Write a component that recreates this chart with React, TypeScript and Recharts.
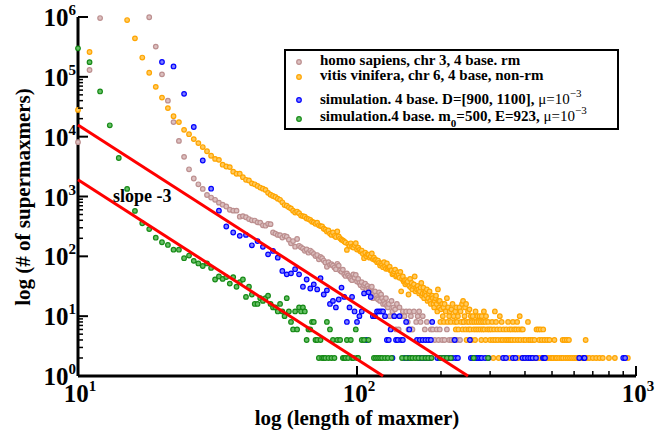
import React from 'react';
import { ScatterChart, Scatter, XAxis, YAxis } from 'recharts';

const FONT = '"Liberation Serif", "Times New Roman", Times, serif';

type Pt = [number, number];

// homo sapiens, chr 3, 4 base. rm  (length, # of supermaxmers)
const homoSapiens: Pt[] = [
  [10, 8100], [11, 130000], [12, 960000], [18, 990000], [19, 320000], [20, 110000], [21, 40000], [22, 17500],
  [23, 8500], [24, 4600], [25, 2850], [26, 2000], [27, 1600], [28, 1340], [29, 1060], [30, 960], [31, 880],
  [32, 790], [33, 730], [34, 680], [35, 600], [36, 580], [37, 580], [38, 460], [39, 470], [40, 450], [41, 420],
  [42, 400], [43, 396], [44, 370], [45, 365], [46, 330], [47, 325], [48, 350], [49, 345], [50, 250], [51, 240],
  [52, 228], [53, 225], [54, 206], [55, 220], [56, 213], [57, 190], [58, 165], [59, 180], [60, 145], [61, 195],
  [62, 150], [63, 142], [64, 135], [65, 124], [66, 130], [67, 115], [68, 125], [69, 118], [70, 110], [71, 101],
  [72, 105], [73, 89], [74, 98], [75, 93], [76, 85], [77, 79], [78, 67], [79, 80], [80, 72], [81, 74], [82, 70],
  [83, 65], [84, 61], [85, 75], [86, 70], [87, 58], [88, 55], [89, 60], [90, 50], [91, 47], [92, 52], [93, 48],
  [94, 45], [95, 42], [96, 40], [97, 50], [98, 44], [99, 49], [100, 38], [101, 42], [102, 36], [103, 33],
  [104, 37], [105, 30], [106, 33], [107, 35], [108, 28], [109, 32], [110, 29], [111, 27], [112, 30], [113, 31],
  [114, 20], [115, 24], [116, 26], [117, 22], [118, 20], [119, 19], [120, 25], [121, 18], [122, 23], [123, 20],
  [124, 16], [125, 18], [126, 16], [127, 20], [128, 15], [129, 14], [130, 16], [131, 10], [133, 18], [134, 12],
  [135, 14], [136, 10], [137, 13], [138, 6], [139, 16], [141, 6], [142, 14], [144, 10], [146, 12], [148, 10],
  [150, 12], [151, 2], [152, 8], [153, 6], [154, 12], [155, 2], [156, 10], [157, 6], [158, 6], [160, 12],
  [161, 2], [163, 8], [165, 10], [166, 2], [167, 12], [169, 8], [170, 2], [172, 10], [175, 6], [178, 8],
  [181, 4], [184, 6], [187, 6], [190, 4], [193, 6], [196, 4], [198, 6], [202, 4], [206, 4], [210, 6], [214, 4],
  [218, 4], [222, 4], [228, 4], [234, 4], [240, 8],
];

// vitis vinifera, chr 6, 4 base, non-rm
const vitisVinifera: Pt[] = [
  [10, 28000], [11, 260000], [15, 890000], [16, 440000], [17, 210000], [18, 117000], [19, 68000], [20, 45000],
  [21, 30000], [22, 22000], [23, 17500], [24, 13000], [25, 11000], [26, 9100], [27, 7800], [28, 6700],
  [29, 5700], [30, 4800], [31, 4250], [32, 4100], [33, 3400], [34, 3170], [35, 3100], [36, 2600], [37, 2400],
  [38, 2400], [39, 2100], [40, 1900], [41, 1850], [42, 1660], [43, 1600], [44, 1500], [45, 1410], [46, 1350],
  [47, 1290], [48, 1150], [49, 1070], [50, 1020], [51, 980], [52, 920], [53, 880], [54, 800], [55, 720],
  [56, 700], [57, 660], [58, 630], [59, 580], [60, 540], [61, 560], [62, 525], [63, 480], [64, 470], [65, 460],
  [66, 430], [67, 420], [68, 405], [69, 380], [70, 370], [71, 350], [72, 365], [73, 330], [74, 320], [75, 315],
  [76, 290], [77, 280], [78, 260], [79, 270], [80, 240], [81, 228], [82, 250], [83, 220], [84, 210], [85, 260],
  [86, 215], [87, 200], [88, 190], [89, 185], [90, 177], [91, 170], [92, 128], [93, 160], [94, 150], [95, 165],
  [96, 145], [97, 140], [98, 155], [99, 166], [100, 130], [101, 140], [102, 128], [103, 120], [104, 125],
  [105, 110], [106, 93], [107, 115], [108, 100], [109, 108], [110, 105], [111, 95], [112, 100], [113, 112],
  [114, 90], [115, 95], [116, 87], [117, 87], [118, 80], [119, 85], [120, 78], [121, 70], [122, 76], [123, 72],
  [124, 66], [125, 80], [126, 68], [127, 62], [128, 76], [129, 62], [130, 65], [131, 67], [132, 58], [133, 58],
  [134, 50], [135, 52], [136, 56], [137, 60], [138, 46], [139, 48], [140, 54], [141, 49], [142, 44], [143, 55],
  [144, 26], [145, 42], [146, 46], [147, 38], [148, 40], [149, 34], [150, 40], [151, 36], [152, 38], [153, 23],
  [154, 32], [155, 42], [156, 30], [157, 36], [158, 28], [159, 32], [160, 34], [161, 46], [162, 26], [163, 30],
  [164, 28], [165, 32], [166, 28], [167, 24], [168, 26], [169, 30], [170, 36], [171, 22], [172, 24], [173, 30],
  [174, 20], [175, 24], [176, 26], [177, 22], [178, 28], [179, 18], [180, 20], [181, 24], [182, 26], [183, 18],
  [184, 16], [185, 21], [186, 22], [187, 20], [188, 16], [189, 14], [190, 18], [191, 20], [192, 22], [193, 16],
  [194, 12], [195, 28], [196, 18], [197, 14], [198, 18], [200, 13], [202, 16], [204, 14], [206, 16], [208, 12],
  [210, 20], [212, 14], [215, 12], [218, 13], [220, 16], [225, 12], [227, 14], [233, 14], [235, 12], [238, 16],
  [240, 18], [244, 14], [246, 16], [250, 12], [253, 13], [266, 12], [285, 12], [312, 12],
];

// vitis vinifera: lengths whose count sits on the low rows (count, lengths)
const vitisRows: [number, number[]][] = [
  [10, [203, 214, 222, 230, 243, 256, 260, 270, 275, 280, 290, 325, 383]],
  [8, [199, 205, 211, 217, 224, 228, 236, 241, 248, 252, 258, 263, 268, 273, 278, 283, 288, 295, 305, 315, 330, 348, 362, 375, 410]],
  [6, [226, 231, 239, 245, 251, 255, 262, 267, 272, 277, 282, 286, 293, 298, 303, 310, 318, 326, 335, 343, 352, 358, 366, 372, 380, 388, 393, 440, 447, 455, 465]],
  [4, [247, 257, 265, 279, 289, 300, 307, 313, 320, 328, 333, 340, 345, 350, 355, 360, 368, 377, 385, 395, 402, 412, 418, 425, 433, 450, 460, 470, 480, 490, 510, 546, 555, 565, 575, 660]],
  [2, [308, 322, 338, 353, 365, 378, 390, 398, 405, 415, 422, 430, 437, 445, 452, 462, 475, 485, 495, 500, 505, 515, 520, 530, 540, 548, 560, 570, 580, 590, 600, 610, 620, 630, 640, 665, 680, 700, 720, 740, 760, 800, 840, 935]],
];

// simulation. 4 base. D=[900, 1100], mu=1e-3
const simD: Pt[] = [
  [20, 177000], [22, 149000], [24, 52000], [26, 14500], [28, 4000], [30, 1350], [32, 580], [34, 315], [36, 250],
  [38, 220], [40, 228], [42, 153], [44, 180], [46, 144], [48, 108], [50, 123], [52, 95], [54, 57], [56, 50],
  [58, 52], [60, 61], [62, 50], [64, 31], [66, 41], [68, 29], [70, 34], [72, 28], [74, 43], [76, 23], [78, 27],
  [80, 16], [82, 18], [84, 14], [86, 19], [88, 30], [90, 21], [92, 8], [94, 14], [96, 21], [98, 12], [100, 8],
  [102, 10], [104, 12], [106, 24], [108, 4], [110, 25], [112, 21], [114, 10], [116, 10], [118, 12], [120, 12],
  [122, 12], [124, 12], [126, 10], [128, 4], [130, 4], [132, 6], [134, 2], [136, 10], [138, 4], [140, 4],
  [142, 10], [144, 4], [146, 4], [148, 2], [150, 8], [152, 2], [154, 6], [156, 2], [164, 4], [166, 2], [168, 4],
  [170, 2], [172, 4], [174, 2], [176, 4], [178, 2], [180, 4], [182, 2], [184, 4], [186, 8], [194, 2], [198, 2],
  [204, 2], [208, 2], [212, 2], [216, 2], [220, 2], [224, 4], [226, 2], [230, 2], [254, 4], [256, 2], [260, 2],
  [264, 2], [268, 2], [272, 2], [276, 2], [280, 2], [288, 2], [296, 2], [334, 2], [342, 2], [362, 2], [370, 2],
  [392, 2], [400, 2], [410, 2], [418, 2], [426, 2], [438, 2], [464, 2], [468, 2], [472, 2], [626, 2], [650, 2],
  [654, 2], [900, 2], [914, 2],
];

// simulation.4 base. m0=500, E=923, mu=1e-3
const simM0: Pt[] = [
  [10, 300000], [11, 176000], [12, 57000], [13, 15500], [14, 4400], [15, 1340], [16, 575], [17, 357], [18, 285],
  [19, 205], [20, 172], [21, 155], [22, 129], [23, 129], [24, 93], [25, 103], [26, 84], [27, 76], [28, 69],
  [29, 76], [30, 64], [31, 41], [32, 46], [33, 42], [34, 45], [35, 35], [36, 45], [37, 31], [38, 37], [39, 41],
  [40, 21], [41, 31], [42, 23], [43, 16], [44, 16], [45, 20], [46, 18], [47, 20], [48, 22], [49, 16], [50, 14],
  [51, 14], [52, 12], [53, 16], [54, 12], [55, 10], [56, 20], [57, 12], [58, 8], [59, 6], [60, 12], [61, 6],
  [62, 14], [63, 12], [64, 14], [65, 12], [66, 4], [67, 6], [68, 6], [69, 8], [70, 8], [71, 4], [72, 4], [73, 2],
  [74, 4], [75, 2], [76, 2], [77, 2], [78, 8], [79, 2], [80, 6], [81, 2], [82, 4], [83, 2], [85, 4], [87, 4],
  [89, 2], [90, 2], [91, 2], [92, 4], [93, 2], [95, 4], [96, 2], [97, 2], [99, 6], [100, 2], [101, 2], [104, 4],
  [106, 4], [110, 4], [115, 2], [117, 2], [119, 2], [121, 2], [123, 2], [126, 2], [129, 2], [133, 2], [145, 2],
  [150, 2], [155, 2], [158, 2], [162, 2], [166, 2], [171, 2], [176, 2], [180, 2], [185, 2], [199, 2], [204, 2],
  [210, 2], [217, 2], [262, 2], [295, 2],
];

// slope -3 guide lines (end points)
const slopeUpper: Pt[] = [[10, 15700], [250, 1]];
const slopeLower: Pt[] = [[10, 1900], [124, 1]];

const xTicks = [10, 100, 200, 300, 400, 500, 600, 700, 800, 900, 1000];
const yTicks = [
  1, 2, 3, 4, 5, 6, 7, 8, 9, 10, 100, 200, 300, 400, 500, 600, 700, 800, 900, 1000, 10000, 20000, 30000,
  40000, 50000, 60000, 70000, 80000, 90000, 100000, 1000000,
];

const toObj = (pts: Pt[]) => pts.map(([x, y]) => ({ x, y }));
const vitisAll: Pt[] = [
  ...vitisVinifera,
  ...vitisRows.flatMap(([c, xs]) => xs.map((x) => [x, c] as Pt)),
];

const SERIES = [
  { key: 'homo', data: homoSapiens, stroke: '#bc8f8f', fill: '#dcc0c0' },
  { key: 'vitis', data: vitisAll, stroke: '#ffa500', fill: '#ffca60' },
  { key: 'simD', data: simD, stroke: '#0000ff', fill: '#8080ff' },
  { key: 'simM0', data: simM0, stroke: '#168a16', fill: '#66c066' },
];

const isMajor = (v: number) => Math.abs(Math.log10(v) - Math.round(Math.log10(v))) < 1e-9;

const Label10 = ({ x, y, exp, anchor }: { x: number; y: number; exp: number; anchor: string }) => (
  <text x={x} y={y} textAnchor={anchor} fontFamily={FONT} fontWeight="bold" fill="#000">
    <tspan fontSize={25}>10</tspan>
    <tspan fontSize={15} dy={-11}>{exp}</tspan>
  </text>
);

const BottomTick = (props: any) => {
  const { x, y, payload } = props;
  const v = payload.value;
  const major = isMajor(v);
  return (
    <g>
      <line x1={x} x2={x} y1={y} y2={y - (major ? 10 : 5)} stroke="#000" strokeWidth={major ? 2 : 1.5} />
      {major && <Label10 x={x + 2} y={y + 26} exp={Math.round(Math.log10(v))} anchor="middle" />}
    </g>
  );
};

const TopTick = (props: any) => {
  const { x, y, payload } = props;
  const major = isMajor(payload.value);
  return <line x1={x} x2={x} y1={y} y2={y + (major ? 10 : 5)} stroke="#000" strokeWidth={major ? 2 : 1.5} />;
};

const LeftTick = (props: any) => {
  const { x, y, payload } = props;
  const v = payload.value;
  const major = isMajor(v);
  return (
    <g>
      <line x1={x} x2={x + (major ? 10 : 5)} y1={y} y2={y} stroke="#000" strokeWidth={major ? 2 : 1.5} />
      {major && <Label10 x={x - 2} y={y + 9} exp={Math.round(Math.log10(v))} anchor="end" />}
    </g>
  );
};

const RightTick = (props: any) => {
  const { x, y, payload } = props;
  const major = isMajor(payload.value);
  return <line x1={x} x2={x - (major ? 10 : 5)} y1={y} y2={y} stroke="#000" strokeWidth={major ? 2 : 1.5} />;
};

const dot = (stroke: string, fill: string) => (p: any) =>
  p.cx == null ? <g /> : <circle cx={p.cx} cy={p.cy} r={2.3} fill={fill} stroke={stroke} strokeWidth={1.2} />;

const noShape = () => <g />;

const axisLine = { stroke: '#000', strokeWidth: 3 };

export default function App() {
  return (
    <div style={{ position: 'relative', width: 671, height: 432, background: '#fff' }}>
      <style>{'body{margin:0;}'}</style>
      <ScatterChart width={671} height={432} margin={{ top: 17, right: 35, bottom: 0, left: 0 }}>
        <XAxis
          xAxisId="b" type="number" dataKey="x" scale="log" domain={[10, 1000]} ticks={xTicks} interval={0}
          orientation="bottom" height={56} axisLine={axisLine} tickLine={false} tickSize={0} tickMargin={0}
          tick={<BottomTick />}
        />
        <XAxis
          xAxisId="t" type="number" dataKey="x" scale="log" domain={[10, 1000]} ticks={xTicks} interval={0}
          orientation="top" height={0} axisLine={axisLine} tickLine={false} tickSize={0} tickMargin={0}
          tick={<TopTick />}
        />
        <YAxis
          yAxisId="l" type="number" dataKey="y" scale="log" domain={[1, 1000000]} ticks={yTicks} interval={0}
          orientation="left" width={78} axisLine={axisLine} tickLine={false} tickSize={0} tickMargin={0}
          tick={<LeftTick />}
        />
        <YAxis
          yAxisId="r" type="number" dataKey="y" scale="log" domain={[1, 1000000]} ticks={yTicks} interval={0}
          orientation="right" width={0} axisLine={axisLine} tickLine={false} tickSize={0} tickMargin={0}
          tick={<RightTick />}
        />
        {SERIES.map((s) => (
          <Scatter
            key={s.key} xAxisId="b" yAxisId="l" data={toObj(s.data)} isAnimationActive={false}
            shape={dot(s.stroke, s.fill)} legendType="none"
          />
        ))}
        {[slopeUpper, slopeLower].map((l, i) => (
          <Scatter
            key={'slope' + i} xAxisId="b" yAxisId="l" data={toObj(l)} isAnimationActive={false}
            fill="#ff0000" line={{ stroke: '#ff0000', strokeWidth: 3 }} shape={noShape} legendType="none"
          />
        ))}
      </ScatterChart>
      <svg
        width={671} height={432}
        style={{ position: 'absolute', left: 0, top: 0, pointerEvents: 'none' }}
        fontFamily={FONT}
      >
        <rect x={285} y={50} width={333} height={79} fill="#fff" stroke="#000" strokeWidth={2} />
        <circle cx={299} cy={62} r={2.3} fill="#dcc0c0" stroke="#bc8f8f" strokeWidth={1.2} />
        <circle cx={299} cy={77} r={2.3} fill="#ffca60" stroke="#ffa500" strokeWidth={1.2} />
        <circle cx={299} cy={100} r={2.3} fill="#8080ff" stroke="#0000ff" strokeWidth={1.2} />
        <circle cx={299} cy={119} r={2.3} fill="#66c066" stroke="#168a16" strokeWidth={1.2} />
        <text x={320} y={65} fontSize={15} fontWeight="bold">homo sapiens, chr 3, 4 base. rm</text>
        <text x={320} y={80} fontSize={15} fontWeight="bold">vitis vinifera, chr 6, 4 base, non-rm</text>
        <text x={320} y={104} fontSize={15}>
          <tspan fontWeight="bold">simulation. 4 base. D=[900, 1100], </tspan>
          <tspan>μ=10</tspan>
          <tspan fontSize={11} dy={-7}>−3</tspan>
        </text>
        <text x={320} y={121} fontSize={15}>
          <tspan fontWeight="bold">simulation.4 base. m</tspan>
          <tspan fontWeight="bold" fontSize={11} dy={6}>0</tspan>
          <tspan fontWeight="bold" dy={-6}>=500, E=923, </tspan>
          <tspan>μ=10</tspan>
          <tspan fontSize={11} dy={-7}>−3</tspan>
        </text>
        <text x={113} y={202} fontSize={18} fontWeight="bold">slope -3</text>
        <text x={357} y={425} fontSize={21} fontWeight="bold" textAnchor="middle">log (length of maxmer)</text>
        <text
          x={0} y={0} fontSize={21} fontWeight="bold" textAnchor="middle"
          transform="translate(30,197) rotate(-90)"
        >
          log (# of supermaxmers)
        </text>
      </svg>
    </div>
  );
}
